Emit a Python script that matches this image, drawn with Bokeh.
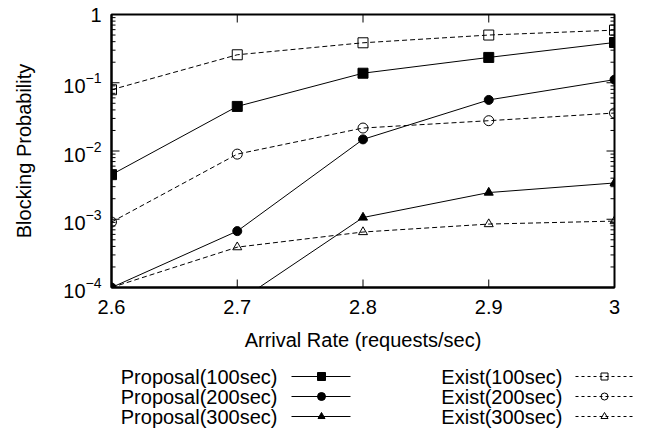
import math
import numpy as np
from bokeh.plotting import figure
from bokeh.layouts import column
from bokeh.models import FixedTicker, LogTickFormatter, Range1d
from bokeh.embed import file_html
from bokeh.resources import INLINE
from bokeh.core.properties import value

# ---- data ----
arrival_rate = [2.6, 2.7, 2.8, 2.9, 3.0]
proposal_100 = [4.5e-3, 4.5e-2, 0.138, 0.235, 0.389]
proposal_200 = [1.0e-4, 6.7e-4, 1.48e-2, 5.6e-2, 0.111]
proposal_300 = [np.nan, 6.1e-5, 1.06e-3, 2.46e-3, 3.4e-3]
exist_100 = [0.079, 0.257, 0.385, 0.50, 0.59]
exist_200 = [9.1e-4, 9.0e-3, 2.17e-2, 2.78e-2, 3.6e-2]
exist_300 = [1.0e-4, 3.9e-4, 6.5e-4, 8.5e-4, 9.4e-4]

x_ticks = [2.6, 2.7, 2.8, 2.9, 3.0]
x_tick_labels = ["2.6", "2.7", "2.8", "2.9", "3"]
y_exponents = [-4, -3, -2, -1, 0]

series_names = ["Proposal(100sec)", "Proposal(200sec)", "Proposal(300sec)",
                "Exist(100sec)", "Exist(200sec)", "Exist(300sec)"]

FONT = "Liberation Sans"

y_ticks = [10.0 ** e for e in y_exponents]
y_minor = [m * 10.0 ** e for e in y_exponents[:-1] for m in range(2, 10)]

X_MIN, X_MAX = x_ticks[0], x_ticks[-1]
Y_MIN, Y_MAX = y_ticks[0], y_ticks[-1]

p = figure(width=646, height=360, y_axis_type="log",
           x_range=Range1d(X_MIN, X_MAX), y_range=Range1d(Y_MIN, Y_MAX),
           output_backend="svg", toolbar_location=None,
           min_border_left=111, min_border_right=32, min_border_top=14, min_border_bottom=73)
p.frame_align = False
p.grid.visible = False
p.outline_line_color = "black"
p.outline_line_width = 2
p.background_fill_color = "white"
p.border_fill_color = "white"

def style_axis(ax):
    ax.axis_line_color = "black"
    ax.axis_line_width = 2
    ax.major_tick_in = 0
    ax.major_tick_out = 0
    ax.minor_tick_in = 0
    ax.minor_tick_out = 0
    ax.major_tick_line_color = None
    ax.minor_tick_line_color = None
    ax.major_label_text_font = FONT
    ax.major_label_text_color = "black"
    ax.major_label_text_font_size = "20px"
    ax.axis_label_text_font = FONT
    ax.axis_label_text_font_size = "20px"
    ax.axis_label_text_font_style = "normal"
    ax.axis_label_text_color = "black"

xa = p.xaxis[0]
xa.ticker = FixedTicker(ticks=x_ticks, minor_ticks=[])
xa.major_label_overrides = {t: l for t, l in zip(x_ticks, x_tick_labels)}
style_axis(xa)
xa.major_label_standoff = 12
xa.axis_label = "Arrival Rate (requests/sec)"
xa.axis_label_standoff = 12

ya = p.yaxis[0]
ya.ticker = FixedTicker(ticks=y_ticks, minor_ticks=y_minor)
ya.formatter = LogTickFormatter(min_exponent=1)
style_axis(ya)
ya.major_label_standoff = 10
ya.axis_label = "Blocking Probability"
ya.axis_label_standoff = 25

# inward ticks on all four edges (half of each dash is clipped by the frame)
for yedge in (Y_MIN, Y_MAX):
    p.scatter(x_ticks, [yedge] * len(x_ticks), marker="dash", size=16, angle=math.pi / 2,
              line_color="black", line_width=1)
for xedge in (X_MIN, X_MAX):
    p.scatter([xedge] * len(y_ticks), y_ticks, marker="dash", size=16,
              line_color="black", line_width=1)
    p.scatter([xedge] * len(y_minor), y_minor, marker="dash", size=8,
              line_color="black", line_width=1)

prop_series = [proposal_100, proposal_200, proposal_300]
exist_series = [exist_100, exist_200, exist_300]
prop_markers = [("square", 10), ("circle", 9), ("triangle", 9)]
exist_markers = [("square", 10), ("circle", 10), ("triangle", 9)]
DASH = "5 3"

for ys, (mk, sz) in zip(exist_series, exist_markers):
    p.line(arrival_rate, ys, line_color="black", line_width=1, line_dash=DASH)
    p.scatter(arrival_rate, ys, marker=mk, size=sz, line_color="black",
              fill_color="white", fill_alpha=0.0, line_width=1)
for ys, (mk, sz) in zip(prop_series, prop_markers):
    p.line(arrival_rate, ys, line_color="black", line_width=1)
    p.scatter(arrival_rate, ys, marker=mk, size=sz, line_color="black",
              fill_color="black", line_width=1)

# ---- legend (gnuplot style: label, then sample) ----
leg = figure(width=646, height=72, x_range=Range1d(0, 646), y_range=Range1d(72, 0),
             output_backend="svg", toolbar_location=None,
             min_border_left=0, min_border_right=0, min_border_top=0, min_border_bottom=0)
leg.frame_align = False
leg.xaxis.visible = False
leg.yaxis.visible = False
leg.grid.visible = False
leg.outline_line_color = None
leg.background_fill_color = "white"
leg.border_fill_color = "white"

rows = [16, 36, 56]
cols = [dict(text_x=277, x0=291, x1=350, mx=321, dash="solid", fill="black",
             alpha=1.0, markers=[("square", 8), ("circle", 8), ("triangle", 7)]),
        dict(text_x=562, x0=575, x1=634, mx=604, dash="3 3", fill="white",
             alpha=0.0, markers=[("square", 7), ("circle", 7), ("triangle", 7)])]
for ci, c in enumerate(cols):
    names = series_names[ci * 3:(ci + 1) * 3]
    leg.text(x=[c["text_x"]] * 3, y=rows, text=names, text_align="right",
             text_baseline="middle", text_font=value(FONT), text_font_size="20px",
             text_color="black")
    leg.segment(x0=[c["x0"]] * 3, x1=[c["x1"]] * 3, y0=rows, y1=rows,
                line_color="black", line_width=1, line_dash=c["dash"])
    for r, (mk, sz) in zip(rows, c["markers"]):
        leg.scatter([c["mx"]], [r], marker=mk, size=sz, line_color="black",
                    fill_color=c["fill"], fill_alpha=c["alpha"], line_width=1)

layout = column(p, leg, spacing=0)
open("out.html", "w").write(file_html(layout, INLINE))
